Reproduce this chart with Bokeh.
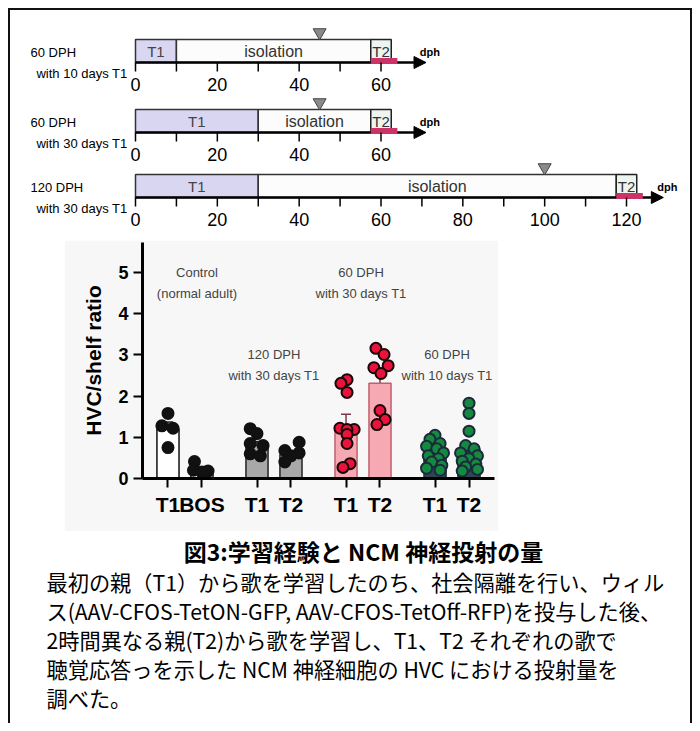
from bokeh.plotting import figure
from bokeh.layouts import column, row
from bokeh.models import (Range1d, FactorRange, ColumnDataSource, Arrow, NormalHead,
                          Whisker, TeeHead, FixedTicker, Spacer)
from bokeh.core.properties import value
from bokeh.embed import file_html
from bokeh.resources import INLINE

# ---------------- timeline data (days post hatch) ----------------
tl_titles = ["60 DPH", "60 DPH", "120 DPH"]
tl_subtitles = ["with 10 days T1", "with 30 days T1", "with 30 days T1"]
tl_t1_end = [10, 30, 30]
tl_t2_start = [57.5, 57.5, 117.5]
tl_t2_end = [62.5, 62.5, 122.5]
tl_marker_day = [45, 45, 100]
tl_axis_max = [60, 60, 120]
tl_arrow_end = [71, 71, 129]
tl_tick_step = 10
tl_label_step = 20

# ---------------- bar chart data ----------------
groups = ["ctrl", "120_30", "60_30", "60_10"]
group_line1 = ["Control", "120 DPH", "60 DPH", "60 DPH"]
group_line2 = ["(normal adult)", "with 30 days T1", "with 30 days T1", "with 10 days T1"]
bar_groups = ["ctrl", "ctrl", "120_30", "120_30", "60_30", "60_30", "60_10", "60_10"]
bar_conds = ["T1", "BOS", "T1", "T2", "T1", "T2", "T1", "T2"]
bar_means = [1.20, 0.23, 0.80, 0.58, 1.29, 2.31, 0.60, 0.70]
bar_sems = [0.17, 0.06, 0.10, 0.08, 0.27, 0.26, 0.08, 0.13]

pts_ctrl_T1 = [1.58, 1.28, 1.22, 0.75]
pts_ctrl_BOS = [0.41, 0.20, 0.18, 0.15]
pts_120_T1 = [1.21, 1.09, 0.85, 0.80, 0.60, 0.55]
pts_120_T2 = [0.88, 0.68, 0.62, 0.55, 0.40]
pts_6030_T1 = [2.40, 2.31, 2.09, 1.22, 1.19, 1.19, 1.07, 0.85, 0.36, 0.27]
pts_6030_T2 = [3.16, 3.01, 2.74, 2.69, 2.55, 1.65, 1.43, 1.31]
pts_6010_T1 = [1.05, 0.95, 0.85, 0.78, 0.72, 0.62, 0.55, 0.48, 0.40, 0.32, 0.25, 0.20]
pts_6010_T2 = [1.83, 1.58, 1.15, 0.80, 0.72, 0.62, 0.55, 0.48, 0.42, 0.35, 0.28, 0.22, 0.18]
points = [pts_ctrl_T1, pts_ctrl_BOS, pts_120_T1, pts_120_T2,
          pts_6030_T1, pts_6030_T2, pts_6010_T1, pts_6010_T2]

# horizontal spread of the dots (layout only)
jitter = [
    [0.0, -0.18, 0.15, 0.0],
    [-0.22, -0.25, 0.18, 0.0],
    [-0.2, 0.0, -0.2, 0.18, -0.2, 0.1],
    [0.24, -0.18, 0.24, 0.0, -0.18],
    [0.03, -0.15, 0.03, -0.18, 0.24, 0.03, 0.03, 0.03, 0.12, -0.09],
    [-0.12, 0.12, 0.24, -0.18, 0.03, 0.0, 0.15, -0.09],
    [0.0, -0.15, 0.15, -0.25, 0.05, 0.25, -0.2, 0.1, -0.1, 0.2, -0.25, 0.15],
    [0.0, 0.0, 0.0, -0.1, 0.15, -0.25, 0.25, 0.0, -0.2, 0.2, -0.1, 0.25, -0.2],
]

# ---------------- caption ----------------
caption_title = "図3:学習経験と NCM 神経投射の量"
caption_lines = [
    "最初の親（T1）から歌を学習したのち、社会隔離を行い、ウィル",
    "ス(AAV-CFOS-TetON-GFP, AAV-CFOS-TetOff-RFP)を投与した後、",
    "2時間異なる親(T2)から歌を学習し、T1、T2 それぞれの歌で",
    "聴覚応答っを示した NCM 神経細胞の HVC における投射量を",
    "調べた。",
]

SANS = value("Liberation Sans")
CJK = value("Noto Sans CJK JP")

# =============== timeline figure ===============
TL_H = 230
tl = figure(width=680, height=TL_H, x_range=Range1d(-30.55, 135.64),
            y_range=Range1d(TL_H, 0), x_axis_type=None, y_axis_type=None,
            min_border=0, toolbar_location=None, output_backend="svg",
            outline_line_color=None)

row_bottoms = [52, 122, 187]
BAR_H = 23
for i in range(3):
    yb = row_bottoms[i]
    yt = yb - BAR_H
    ym = yb - BAR_H / 2
    tl.quad(left=[0], right=[tl_t1_end[i]], top=[yt], bottom=[yb],
            fill_color="#d9d6f2", line_color="#333333", line_width=1.5)
    tl.quad(left=[tl_t1_end[i]], right=[tl_t2_start[i]], top=[yt], bottom=[yb],
            fill_color="#fcfcfc", line_color="#333333", line_width=1.5)
    tl.quad(left=[tl_t2_start[i]], right=[tl_t2_end[i]], top=[yt], bottom=[yb],
            fill_color="#eef4f0", line_color="#222222", line_width=1.5)
    tl.segment(x0=[0], y0=[yb], x1=[tl_t2_end[i] + 1.5], y1=[yb],
               line_color="black", line_width=2.5)
    tl.quad(left=[tl_t2_start[i]], right=[tl_t2_end[i] + 1.5], top=[yb - 4.5], bottom=[yb + 1.5],
            fill_color="#cc3366", line_color=None)
    tl.add_layout(Arrow(end=NormalHead(size=12, fill_color="black", line_color="black"),
                        x_start=tl_t2_end[i] + 1.5, y_start=yb, x_end=tl_arrow_end[i], y_end=yb,
                        line_color="black", line_width=2.5))
    ticks = list(range(0, tl_axis_max[i] + 1, tl_tick_step))
    tl.segment(x0=ticks, y0=[yb] * len(ticks), x1=ticks, y1=[yb + 9] * len(ticks),
               line_color="black", line_width=1.5)
    labs = list(range(0, tl_axis_max[i] + 1, tl_label_step))
    tl.text(x=labs, y=[yb + 22] * len(labs), text=[str(v) for v in labs],
            text_font=SANS, text_font_size="18px", text_align="center",
            text_baseline="middle", text_color="black")
    tl.text(x=[tl_t1_end[i] / 2], y=[ym], text=["T1"], text_font=SANS,
            text_font_size="15px", text_align="center", text_baseline="middle",
            text_color="#444444")
    tl.text(x=[(tl_t1_end[i] + tl_t2_start[i]) / 2], y=[ym], text=["isolation"],
            text_font=SANS, text_font_size="16px", text_align="center",
            text_baseline="middle", text_color="#333333")
    tl.text(x=[(tl_t2_start[i] + tl_t2_end[i]) / 2], y=[ym], text=["T2"], text_font=SANS,
            text_font_size="15px", text_align="center", text_baseline="middle",
            text_color="#333333")
    tl.scatter(x=[tl_marker_day[i]], y=[yt - 7], marker="inverted_triangle", size=13,
               fill_color="#8a8a8a", line_color="#444444", line_width=1)
    tl.text(x=[tl_arrow_end[i] - 1.5], y=[yb - 11], text=["dph"], text_font=SANS,
            text_font_size="11px", text_font_style="bold", text_align="left",
            text_baseline="middle", text_color="black")
    tl.text(x=[0], y=[yb - 10], text=[tl_titles[i]], x_offset=-105, text_font=SANS,
            text_font_size="13px", text_align="left", text_baseline="middle",
            text_color="black")
    tl.text(x=[0], y=[yb + 11], text=[tl_subtitles[i]], x_offset=-8, text_font=SANS,
            text_font_size="13px", text_align="right", text_baseline="middle",
            text_color="black")

# =============== bar chart ===============
BP_H = 291
factors = list(zip(bar_groups, bar_conds))
bp = figure(width=434, height=BP_H,
            x_range=FactorRange(*factors, group_padding=0.62, factor_padding=0,
                                range_padding=0.25, range_padding_units="absolute"),
            y_range=Range1d(0, 5.73), min_border_left=78, min_border_right=4,
            min_border_top=2, min_border_bottom=BP_H - 238,
            toolbar_location=None, output_backend="svg",
            background_fill_color="#f7f7f7", border_fill_color="#f7f7f7",
            outline_line_color=None)
bp.xgrid.visible = False
bp.ygrid.visible = False

fills = {"ctrl": "white", "120_30": "#a8a8a8", "60_30": "#f6a9b3", "60_10": "#2f4454"}
lines = {"ctrl": "#111111", "120_30": "#222222", "60_30": "#c0606e", "60_10": "#1d2b36"}
bar_src = ColumnDataSource(dict(
    x=factors, top=bar_means,
    fill=[fills[g] for g in bar_groups], line=[lines[g] for g in bar_groups],
    upper=[m + s for m, s in zip(bar_means, bar_sems)],
    lower=[m - s for m, s in zip(bar_means, bar_sems)],
    wcol=["#222222", "#222222", "#222222", "#222222", "#7a3a48", "#7a3a48", "#1d2b36", "#1d2b36"],
))
bp.vbar(x="x", top="top", width=0.65, source=bar_src, fill_color="fill",
        line_color="line", line_width=1.5)

pfill = {"ctrl": "#111111", "120_30": "#111111", "60_30": "#e8143c", "60_10": "#14893f"}
pline = {"ctrl": "#111111", "120_30": "#111111", "60_30": "#1a0808", "60_10": "#1b2b3b"}
px, py, pf, pl = [], [], [], []
for k in range(len(factors)):
    g, c = factors[k]
    for v, j in zip(points[k], jitter[k]):
        px.append((g, c, j))
        py.append(v)
        pf.append(pfill[g])
        pl.append(pline[g])
bp.scatter(x=px, y=py, size=11, fill_color=pf, line_color=pl, line_width=2)

bp.add_layout(Whisker(source=bar_src, base="x", upper="upper", lower="lower",
                      line_color="wcol", line_width=1.5,
                      upper_head=TeeHead(size=10, line_color="wcol", line_width=1.5),
                      lower_head=TeeHead(size=10, line_color="wcol", line_width=1.5)))

label_y1 = [5.0, 3.0, 5.0, 3.0]
label_dx = [12, 0, -2, -5]
for g, l1, l2, y1, dx in zip(groups, group_line1, group_line2, label_y1, label_dx):
    bp.text(x=[g], y=[y1], text=[l1], x_offset=dx, text_font=SANS, text_font_size="13px",
            text_align="center", text_baseline="middle", text_color="#444444")
    bp.text(x=[g], y=[y1 - 0.51], text=[l2], x_offset=dx, text_font=SANS,
            text_font_size="13px", text_align="center", text_baseline="middle",
            text_color="#444444")

bp.yaxis.ticker = FixedTicker(ticks=[0, 1, 2, 3, 4, 5])
bp.yaxis.axis_label = "HVC/shelf ratio"
bp.yaxis.axis_label_text_font = "Liberation Sans"
bp.yaxis.axis_label_text_font_size = "21px"
bp.yaxis.axis_label_text_font_style = "bold"
bp.yaxis.axis_label_text_color = "black"
bp.yaxis.axis_label_standoff = 10
bp.yaxis.major_label_text_font = "Liberation Sans"
bp.yaxis.major_label_text_font_size = "18px"
bp.yaxis.major_label_text_font_style = "bold"
bp.yaxis.major_label_text_color = "black"
bp.yaxis.major_label_standoff = 5
bp.yaxis.minor_tick_line_color = None

bp.xaxis.major_label_text_font = "Liberation Sans"
bp.xaxis.major_label_text_font_size = "21px"
bp.xaxis.major_label_text_font_style = "bold"
bp.xaxis.major_label_text_color = "black"
bp.xaxis.major_label_standoff = 5
bp.xaxis.group_text_color = None
bp.xaxis.group_text_font_size = "10px"
bp.xaxis.separator_line_color = None
for ax in (bp.xaxis, bp.yaxis):
    ax.axis_line_width = 3
    ax.axis_line_color = "black"
    ax.major_tick_line_width = 2
    ax.major_tick_line_color = "black"
    ax.major_tick_out = 9
    ax.major_tick_in = 0

# =============== caption ===============
CAP_H = 192
cap = figure(width=680, height=CAP_H, x_range=Range1d(0, 680), y_range=Range1d(CAP_H, 0),
             x_axis_type=None, y_axis_type=None, min_border=0, toolbar_location=None,
             output_backend="svg", outline_line_color=None)
cap.text(x=[353], y=[19], text=[caption_title], text_font=CJK, text_font_size="23px",
         text_font_style="bold", text_align="center", text_baseline="middle",
         text_color="black")
cap.text(x=[36] * len(caption_lines), y=[50 + 29 * k for k in range(len(caption_lines))],
         text=caption_lines, text_font=CJK, text_font_size="21.2px", text_align="left",
         text_baseline="middle", text_color="black")

layout = column(tl, row(Spacer(width=54, height=BP_H), bp), cap, margin=(8, 0, 0, 8),
                styles={"border-top": "2px solid #111", "border-left": "2px solid #111",
                        "border-right": "2px solid #111"})

open("out.html", "w").write(file_html(layout, INLINE))
